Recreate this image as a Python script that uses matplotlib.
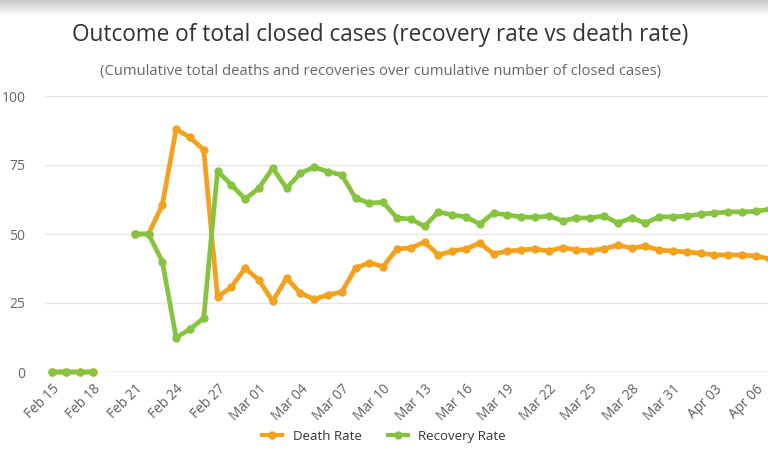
import numpy as np
import matplotlib
matplotlib.use("Agg")
import matplotlib.pyplot as plt
from matplotlib.lines import Line2D

nan = np.nan
# days since Feb 15 (2020), Feb 15 .. Apr 07
days = list(range(53))
death_rate = [0, 0, 0, 0, nan, nan, 50, 50, 60.5, 88, 85, 80.5,
              27.2, 30.8, 37.6, 33.3, 25.6, 34, 28.6, 26.4, 27.9, 29,
              37.6, 39.6, 38.2, 44.6, 44.9, 47.1, 42.4, 43.8, 44.6, 46.7,
              42.8, 43.8, 44.2, 44.6, 43.8, 45.1, 44.2, 44, 44.6, 46,
              44.9, 45.6, 44.2, 43.8, 43.5, 43, 42.4, 42.4, 42.4, 42, 41]
recovery_rate = [0, 0, 0, 0, nan, nan, 50, 50, 40, 12.5, 15.5, 19.5,
                 72.8, 67.8, 62.7, 66.6, 73.9, 66.6, 72, 74.2, 72.6, 71.4,
                 63, 61.2, 61.5, 55.8, 55.4, 52.8, 58, 56.9, 56.2, 53.6,
                 57.6, 56.9, 56.2, 56, 56.5, 54.8, 55.8, 55.8, 56.5, 54,
                 55.8, 54, 56.2, 56.2, 56.5, 57.2, 57.6, 58, 58, 58.2, 59]
tick_days = list(range(0, 52, 3))
tick_labels = ["Feb 15", "Feb 18", "Feb 21", "Feb 24", "Feb 27", "Mar 01",
               "Mar 04", "Mar 07", "Mar 10", "Mar 13", "Mar 16", "Mar 19",
               "Mar 22", "Mar 25", "Mar 28", "Mar 31", "Apr 03", "Apr 06"]
y_ticks = [0, 25, 50, 75, 100]

ORANGE = "#F4A11E"
GREEN = "#86C440"

plt.rcParams['font.family'] = ['Open Sans', 'DejaVu Sans']

fig = plt.figure(figsize=(7.68, 4.51), dpi=100)
fig.patch.set_facecolor("white")

# top grey shading of the screenshot
gax = fig.add_axes([0, 1 - 16 / 451, 1, 16 / 451])
grad = np.linspace(0.78, 1.0, 64).reshape(-1, 1)
gax.imshow(grad, aspect='auto', cmap='gray', vmin=0, vmax=1, extent=[0, 1, 0, 1])
gax.axis('off')

ax = fig.add_axes([45 / 768, (451 - 372) / 451, (768 - 45) / 768, (372 - 96) / 451])
ax.set_xlim(-0.5, (768 - 52) / 13.8)
ax.set_ylim(0, 100)

ax.plot(days, death_rate, color=ORANGE, lw=3.4, marker='o', ms=5,
        clip_on=False, zorder=3, solid_joinstyle='round')
ax.plot(days, recovery_rate, color=GREEN, lw=3.4, marker='o', ms=5,
        clip_on=False, zorder=4, solid_joinstyle='round')

for s in ax.spines.values():
    s.set_visible(False)
ax.axhline(0, color="#dcdcdc", lw=1, zorder=1)
ax.set_yticks(y_ticks)
ax.set_yticklabels([str(v) for v in y_ticks], color="#666666", fontsize=10)
ax.yaxis.grid(True, color="#e6e6e6", lw=1)
ax.set_axisbelow(True)
ax.tick_params(axis='y', length=0, pad=14)

ax.set_xticks(tick_days)
ax.set_xticklabels(tick_labels, rotation=45, ha='right', rotation_mode='anchor',
                   color="#606060", fontsize=9.8)
ax.tick_params(axis='x', length=0, pad=7)

fig.text(0.495, 1 - 35 / 451, "Outcome of total closed cases (recovery rate vs death rate)",
         ha='center', va='center', fontsize=16.3, color="#333333")
fig.text(0.495, 1 - 72 / 451,
         "(Cumulative total deaths and recoveries over cumulative number of closed cases)",
         ha='center', va='center', fontsize=10.7, color="#666666")

handles = [Line2D([0], [0], color=ORANGE, lw=3, marker='o', ms=5),
           Line2D([0], [0], color=GREEN, lw=3, marker='o', ms=5)]
fig.legend(handles, ["Death Rate", "Recovery Rate"], loc='lower center',
           bbox_to_anchor=(0.5, 0.0), ncol=2, frameon=False, borderpad=0.1,
           fontsize=9.5, labelcolor="#333333", handlelength=1.5)

fig.savefig("out.png", dpi=100, facecolor="white")
